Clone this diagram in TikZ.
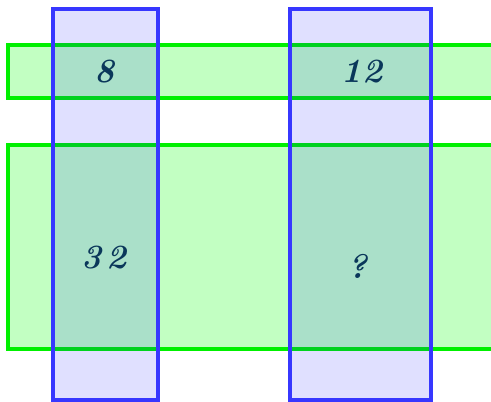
\documentclass[tikz,border=0pt]{standalone}
\begin{document}
\begin{tikzpicture}[x=1pt,y=-1pt,
  gband/.style={draw={rgb,255:red,0;green,240;blue,0}, line width=3.4pt, fill={rgb,255:red,0;green,255;blue,0}, fill opacity=0.24},
  bband/.style={draw={rgb,255:red,55;green,55;blue,255}, line width=3.2pt, fill={rgb,255:red,0;green,0;blue,255}, fill opacity=0.12},
  num/.style={text={rgb,255:red,10;green,55;blue,90}, font=\fontsize{34}{38}\selectfont\bfseries\itshape, inner sep=0pt}]
\useasboundingbox (0,0) rectangle (491,402);
\draw[gband] (8,45) rectangle (500,98);
\draw[gband] (8,145) rectangle (500,349);
\draw[bband] (53,9) rectangle (158,400);
\draw[bband] (290,9) rectangle (431,400);
\node[num] (a) at (105,72) {8};
\node[num] (b) at (362,72) {12};
\node[num] (c) at (104,258) {3\,2};
\node[num] (d) at (358,266) {?};
\end{tikzpicture}
\end{document}
